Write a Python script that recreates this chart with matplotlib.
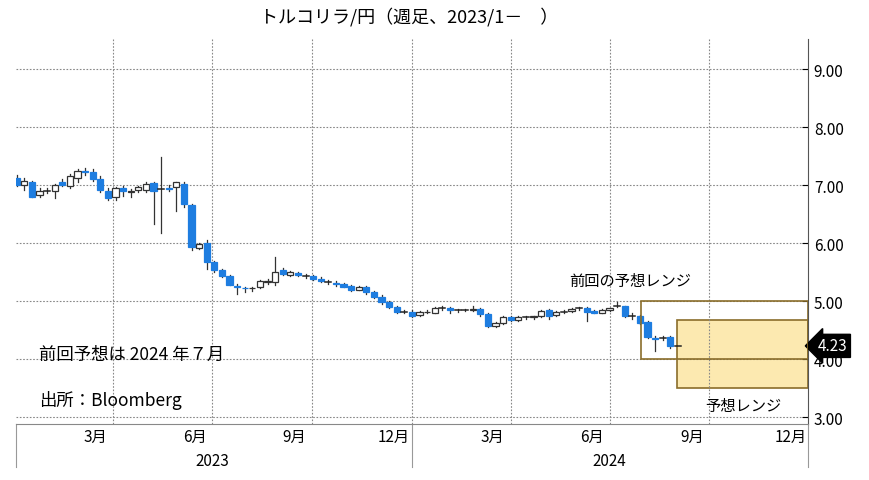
import numpy as np
import pandas as pd
from matplotlib import pyplot as plt
import matplotlib.dates as mdates
from matplotlib.patches import Rectangle
import matplotlib.transforms as mtrans

plt.rcParams['font.family'] = ['Noto Sans CJK JP']

# Weekly TRY/JPY candles from 2023-01-02
start = "2023-01-02"
opens = [7.12, 7.00, 7.05, 6.83, 6.90, 6.90, 7.05, 6.98, 7.13, 7.25, 7.22, 7.10, 6.90, 6.80, 6.95,
         6.88, 6.92, 6.92, 7.03, 6.93, 6.95, 6.97, 7.02, 6.66, 5.92, 6.00, 5.67, 5.53, 5.43, 5.27,
         5.23, 5.22, 5.24, 5.33, 5.33, 5.53, 5.46, 5.49, 5.45, 5.43, 5.39, 5.34, 5.32, 5.30, 5.26,
         5.20, 5.24, 5.15, 5.08, 4.98, 4.90, 4.82, 4.82, 4.76, 4.81, 4.80, 4.88, 4.88, 4.85, 4.85,
         4.85, 4.86, 4.78, 4.58, 4.62, 4.72, 4.68, 4.72, 4.72, 4.74, 4.85, 4.76, 4.82, 4.83, 4.87,
         4.88, 4.83, 4.80, 4.85, 4.92, 4.91, 4.75, 4.74, 4.64, 4.36, 4.36, 4.38, 4.23]
highs = [7.18, 7.12, 7.08, 6.95, 6.95, 7.02, 7.10, 7.20, 7.27, 7.30, 7.28, 7.15, 6.95, 6.97, 6.98,
         6.93, 6.98, 7.05, 7.05, 7.48, 7.00, 7.05, 7.05, 6.68, 6.00, 6.05, 5.70, 5.55, 5.45, 5.30,
         5.25, 5.25, 5.36, 5.38, 5.76, 5.58, 5.52, 5.50, 5.47, 5.45, 5.42, 5.36, 5.34, 5.32, 5.28,
         5.26, 5.26, 5.17, 5.10, 5.00, 4.92, 4.85, 4.84, 4.83, 4.85, 4.90, 4.92, 4.90, 4.87, 4.86,
         4.92, 4.88, 4.80, 4.64, 4.74, 4.74, 4.74, 4.74, 4.75, 4.85, 4.87, 4.83, 4.85, 4.88, 4.90,
         4.90, 4.85, 4.86, 4.89, 4.98, 4.92, 4.80, 4.76, 4.66, 4.40, 4.40, 4.40, 4.23]
lows = [6.98, 6.92, 6.80, 6.80, 6.86, 6.78, 6.98, 6.95, 7.05, 7.18, 7.08, 6.88, 6.75, 6.75, 6.82,
        6.80, 6.88, 6.88, 6.33, 6.18, 6.90, 6.55, 6.62, 5.88, 5.90, 5.55, 5.50, 5.42, 5.28, 5.12,
        5.15, 5.18, 5.22, 5.30, 5.28, 5.45, 5.44, 5.44, 5.40, 5.37, 5.33, 5.30, 5.27, 5.24, 5.18,
        5.19, 5.12, 5.05, 4.96, 4.88, 4.80, 4.79, 4.72, 4.74, 4.79, 4.79, 4.84, 4.80, 4.82, 4.83,
        4.83, 4.74, 4.56, 4.55, 4.61, 4.66, 4.66, 4.70, 4.70, 4.72, 4.70, 4.74, 4.80, 4.82, 4.84,
        4.66, 4.79, 4.79, 4.83, 4.90, 4.73, 4.70, 4.60, 4.36, 4.15, 4.33, 4.20, 4.23]
closes = [7.00, 7.08, 6.80, 6.90, 6.90, 7.00, 7.00, 7.15, 7.24, 7.22, 7.10, 6.92, 6.78, 6.95, 6.90,
          6.90, 6.97, 7.02, 6.90, 6.93, 6.93, 7.05, 6.67, 5.93, 5.98, 5.68, 5.53, 5.43, 5.28, 5.25,
          5.22, 5.23, 5.34, 5.35, 5.50, 5.47, 5.50, 5.46, 5.44, 5.39, 5.35, 5.33, 5.30, 5.25, 5.20,
          5.24, 5.15, 5.08, 4.98, 4.90, 4.82, 4.82, 4.75, 4.81, 4.82, 4.88, 4.88, 4.85, 4.85, 4.85,
          4.86, 4.78, 4.58, 4.62, 4.72, 4.68, 4.72, 4.72, 4.74, 4.83, 4.75, 4.82, 4.82, 4.87, 4.88,
          4.82, 4.80, 4.85, 4.88, 4.92, 4.75, 4.75, 4.63, 4.38, 4.35, 4.37, 4.23, 4.23]

prev_range = ("2024-07-30", "2024-12-31", 4.0, 5.0)   # 前回の予想レンジ
new_range = ("2024-09-01", "2024-12-31", 3.5, 4.67)   # 予想レンジ
last_value = 4.23

y_ticks = [3, 4, 5, 6, 7, 8, 9]
month_labels = ["3月", "6月", "9月", "12月", "3月", "6月", "9月", "12月"]
month_pos = ["2023-03-15", "2023-06-15", "2023-09-15", "2023-12-15",
             "2024-03-15", "2024-06-15", "2024-09-15", "2024-12-15"]
years = ["2023", "2024"]

blue = "#1e7de0"
dates = pd.date_range(start, periods=len(closes), freq="7D")
x = mdates.date2num(dates)

fig = plt.figure(figsize=(8.7, 4.81), dpi=100)
ax = fig.add_axes([0.018, 0.116, 0.911, 0.801])

for xi, o, h, l, c in zip(x, opens, highs, lows, closes):
    up = c >= o
    ax.plot([xi, xi], [l, h], color="#333333", lw=0.9, zorder=2)
    body = abs(c - o)
    if body < 0.01:
        ax.plot([xi - 2.8, xi + 2.8], [c, c], color="#222222", lw=1.1, zorder=3)
        continue
    ax.add_patch(Rectangle((xi - 2.9, min(o, c)), 5.8, body,
                           facecolor="white" if up else blue,
                           edgecolor="#333333" if up else blue, lw=0.9, zorder=3))

# forecast ranges
d0, d1, lo, hi = prev_range
ax.add_patch(Rectangle((mdates.datestr2num(d0), lo), mdates.datestr2num(d1) - mdates.datestr2num(d0),
                       hi - lo, facecolor="none", edgecolor="#8a6d2a", lw=1.2, zorder=4))
d0, d1, lo, hi = new_range
ax.add_patch(Rectangle((mdates.datestr2num(d0), lo), mdates.datestr2num(d1) - mdates.datestr2num(d0),
                       hi - lo, facecolor="#fce9b0", edgecolor="#8a6d2a", lw=1.2, zorder=1))

ax.set_xlim(mdates.datestr2num("2023-01-01"), mdates.datestr2num("2024-12-31"))
ax.set_ylim(2.88, 9.52)

ax.yaxis.tick_right()
ax.set_yticks(y_ticks)
ax.set_yticklabels(["%.2f" % v for v in y_ticks], fontsize=11)
ax.tick_params(axis="y", direction="in", length=4, pad=4)
qtrs = mdates.datestr2num(["2023-04-01", "2023-07-01", "2023-10-01", "2024-01-01",
                           "2024-04-01", "2024-07-01", "2024-10-01"])
ax.set_xticks(qtrs)
ax.set_xticklabels([])
ax.tick_params(axis="x", length=0)
ax.set_xticks(mdates.datestr2num(month_pos), minor=True)
ax.set_xticklabels(month_labels, minor=True, fontsize=11)
ax.tick_params(axis="x", which="minor", length=0, pad=3)
ax.grid(True, linestyle=(0, (1.5, 1.5)), color="#888888", lw=0.8)
for s in ["top", "left"]:
    ax.spines[s].set_visible(False)
ax.spines["bottom"].set_color("#888888")
ax.spines["right"].set_color("#555555")

# year row
trans = mtrans.blended_transform_factory(ax.transData, ax.transAxes)
for d in ["2023-01-01", "2024-01-01", "2024-12-31"]:
    xd = mdates.datestr2num(d)
    ax.plot([xd, xd], [0, -0.11], color="#999999", lw=0.8, transform=trans, clip_on=False)
for yr in years:
    ax.text(mdates.datestr2num(yr + "-07-01"), -0.095, yr, transform=trans,
            ha="center", va="center", fontsize=11)

ax.text(mdates.datestr2num("2024-07-20"), 5.28, "前回の予想レンジ", fontsize=11, ha="center")
ax.text(mdates.datestr2num("2024-11-01"), 3.12, "予想レンジ", fontsize=11, ha="center")
ax.text(0.03, 0.17, "前回予想は 2024 年７月", transform=ax.transAxes, fontsize=12.5)
ax.text(0.03, 0.05, "出所：Bloomberg", transform=ax.transAxes, fontsize=12.5)
ax.text(1.012, (last_value - 2.88) / (9.52 - 2.88), "%.2f" % last_value, transform=ax.transAxes,
        color="white", fontsize=11, va="center", ha="left",
        bbox=dict(boxstyle="larrow,pad=0.2", fc="black", ec="black"))

fig.suptitle("トルコリラ/円（週足、2023/1－　）", fontsize=13, x=0.47, y=0.985)
fig.savefig("out.png", dpi=100)
